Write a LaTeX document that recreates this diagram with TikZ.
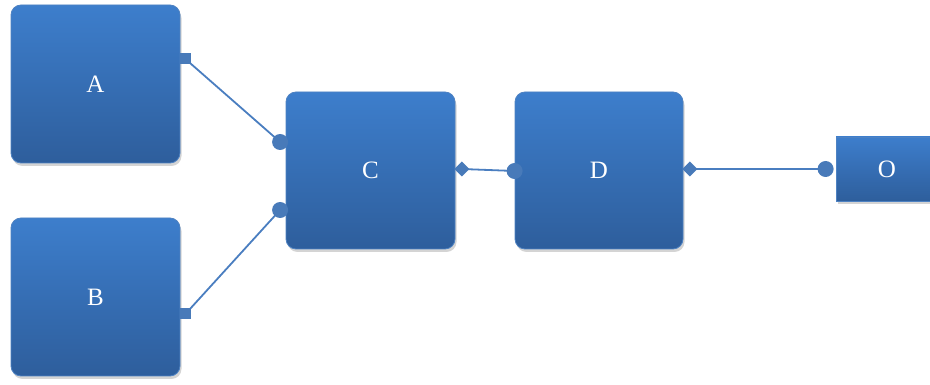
\documentclass[tikz,border=0pt]{standalone}
\usepackage{fontspec}
\setmainfont{Liberation Serif}
\usetikzlibrary{shadows,calc}
\definecolor{boxtop}{RGB}{61,126,204}
\definecolor{boxbot}{RGB}{46,94,156}
\definecolor{boxedge}{RGB}{78,130,194}
\definecolor{linkblue}{RGB}{74,126,192}
\definecolor{markblue}{RGB}{72,122,185}
\tikzset{
  x=1pt, y=1pt,
  block/.style={draw=boxedge, line width=0.8pt, rounded corners=10pt,
    top color=boxtop, bottom color=boxbot, text=white,
    font=\fontsize{25}{30}\selectfont, inner sep=0pt,
    drop shadow={shadow xshift=1.5pt, shadow yshift=-3pt, opacity=0.28, fill=black!60}},
  port/.style={draw=boxedge, line width=0.8pt,
    top color=boxtop, bottom color=boxbot, text=white,
    font=\fontsize{25}{30}\selectfont, inner sep=0pt,
    drop shadow={shadow xshift=1.5pt, shadow yshift=-3pt, opacity=0.28, fill=black!60}},
  link/.style={draw=linkblue, line width=1.8pt},
  sqmark/.style={fill=markblue},
  dotmark/.style={fill=markblue},
}
\begin{document}
\begin{tikzpicture}
\useasboundingbox (0,0) rectangle (930,385);

% boxes
\node[block, minimum width=169pt, minimum height=158pt] (A) at (95.5,301) {A};
\node[block, minimum width=169pt, minimum height=158pt] (B) at (95.5,88) {B};
\node[block, minimum width=169pt, minimum height=157pt] (C) at (370.5,214.5) {C};
\node[block, minimum width=168pt, minimum height=157pt] (D) at (599,214.5) {D};
\node[port, minimum width=102pt, minimum height=64pt] (O) at (887,216) {O};

% connection points on the box borders
\coordinate (pA) at ($(A.east)+(5,25)$);
\coordinate (pB) at ($(B.east)+(5,-17)$);
\coordinate (cA) at ($(C.west)+(-5.5,28.5)$);
\coordinate (cB) at ($(C.west)+(-5.5,-39.5)$);
\coordinate (dC) at ($(C.east)+(6.5,1.5)$);
\coordinate (cD) at ($(D.west)+(0,-0.5)$);
\coordinate (dD) at ($(D.east)+(6.5,1.5)$);
\coordinate (cO) at ($(O.west)+(-10,0)$);

% connectors
\draw[link] (pA) -- (cA);
\draw[link] (pB) -- (cB);
\draw[link] (dC) -- (cD);
\draw[link] (dD) -- (cO);

% end markers
\fill[sqmark] ($(pA)+(-5.5,-5.5)$) rectangle ($(pA)+(5.5,5.5)$);
\fill[sqmark] ($(pB)+(-5.5,-5.5)$) rectangle ($(pB)+(5.5,5.5)$);
\fill[dotmark] (cA) circle (8);
\fill[dotmark] (cB) circle (8);
\fill[dotmark] (cD) circle (8);
\fill[dotmark] (cO) circle (8);
\fill[sqmark] ($(dC)+(-7.5,0)$) -- ($(dC)+(0,7.5)$) -- ($(dC)+(7.5,0)$) -- ($(dC)+(0,-7.5)$) -- cycle;
\fill[sqmark] ($(dD)+(-7.5,0)$) -- ($(dD)+(0,7.5)$) -- ($(dD)+(7.5,0)$) -- ($(dD)+(0,-7.5)$) -- cycle;
\end{tikzpicture}
\end{document}
